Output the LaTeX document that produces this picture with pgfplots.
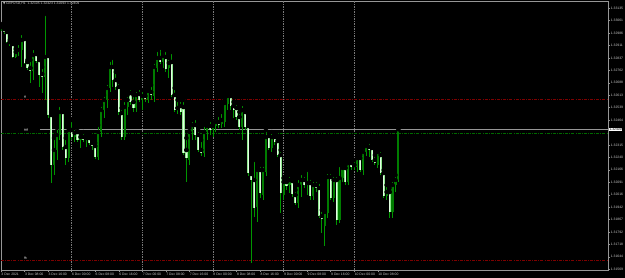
\documentclass[border=0pt]{standalone}
\usepackage{fontspec}
\setmainfont{Liberation Sans}
\newfontfamily\dejavu{DejaVu Sans}
\usepackage{pgfplots}
\usepackage{pgfplotstable}
\pgfplotsset{compat=1.18}
\definecolor{wick}{RGB}{0,150,0}
\definecolor{bullbody}{RGB}{0,125,0}
\definecolor{bearedge}{RGB}{140,230,140}
\definecolor{bearfill}{RGB}{225,255,225}
\definecolor{framecol}{RGB}{150,150,150}
\definecolor{labelcol}{RGB}{200,200,200}
\definecolor{sepcol}{RGB}{120,120,120}
\definecolor{slred}{RGB}{125,0,0}
\definecolor{ordgreen}{RGB}{0,105,0}

\pgfplotstableread{
i O H L C
0 1.33023 1.33041 1.32999 1.33011
1 1.33011 1.33023 1.32981 1.32993
2 1.32993 1.33005 1.32927 1.32933
3 1.32933 1.32945 1.32909 1.32921
4 1.32921 1.32927 1.32837 1.32843
8 1.32951 1.32969 1.32801 1.32807
9 1.32813 1.32825 1.32765 1.32777
10 1.32777 1.32825 1.32687 1.32759
12 1.32861 1.32873 1.32807 1.32819
13 1.32825 1.32837 1.32663 1.32735
14 1.32741 1.32783 1.32627 1.32723
16 1.32849 1.32861 1.32477 1.32495
17 1.32495 1.32513 1.32087 1.32195
21 1.32513 1.32537 1.32285 1.32303
22 1.32303 1.32357 1.32195 1.32237
24 1.32405 1.32465 1.32345 1.32363
26 1.32393 1.32417 1.32333 1.32345
28 1.32363 1.32393 1.32333 1.32345
30 1.32357 1.32381 1.32315 1.32327
31 1.32327 1.32345 1.32285 1.32309
32 1.32309 1.32327 1.32231 1.32243
38 1.32783 1.32837 1.32663 1.32705
39 1.32705 1.32753 1.32645 1.32663
40 1.32663 1.32693 1.32495 1.32513
41 1.32507 1.32537 1.32345 1.32363
44 1.32627 1.32657 1.32555 1.32573
45 1.32573 1.32615 1.32513 1.32537
47 1.32621 1.32657 1.32573 1.32585
49 1.32609 1.32633 1.32573 1.32591
51 1.32633 1.32675 1.32585 1.32615
54 1.32837 1.32897 1.32801 1.32813
56 1.32843 1.32885 1.32753 1.32771
58 1.32813 1.32873 1.32603 1.32615
59 1.32615 1.32657 1.32513 1.32525
60 1.32537 1.32585 1.32501 1.32525
61 1.32549 1.32585 1.32495 1.32513
62 1.32543 1.32585 1.32255 1.32267
63 1.32285 1.32357 1.32093 1.32237
66 1.32435 1.32477 1.32345 1.32375
67 1.32375 1.32405 1.32273 1.32285
68 1.32285 1.32345 1.32249 1.32267
71 1.32429 1.32465 1.32375 1.32405
74 1.32453 1.32495 1.32417 1.32435
78 1.32609 1.32621 1.32525 1.32549
79 1.32549 1.32573 1.32477 1.32525
80 1.32537 1.32567 1.32465 1.32483
81 1.32483 1.32513 1.32405 1.32423
83 1.32513 1.32537 1.32405 1.32423
84 1.32429 1.32453 1.32129 1.32147
85 1.32141 1.32165 1.31607 1.32105
86 1.32105 1.32225 1.31883 1.31937
88 1.32165 1.32195 1.31997 1.32027
91 1.32369 1.32387 1.32285 1.32297
93 1.32363 1.32387 1.32315 1.32333
94 1.32339 1.32357 1.32243 1.32255
95 1.32255 1.32285 1.31907 1.32027
97 1.32093 1.32117 1.32045 1.32069
99 1.32099 1.32117 1.32003 1.32021
100 1.32015 1.32045 1.31955 1.31967
103 1.32105 1.32135 1.32057 1.32075
105 1.32087 1.32117 1.31985 1.32009
107 1.32075 1.32105 1.32033 1.32057
108 1.32057 1.32093 1.31877 1.31889
109 1.31889 1.31925 1.31787 1.31871
112 1.32123 1.32153 1.31985 1.31997
114 1.32105 1.32135 1.31835 1.31865
117 1.32177 1.32195 1.32075 1.32093
119 1.32207 1.32225 1.32165 1.32183
120 1.32195 1.32225 1.32165 1.32183
122 1.32237 1.32255 1.32153 1.32165
125 1.32303 1.32333 1.32243 1.32285
126 1.32297 1.32315 1.32213 1.32225
127 1.32225 1.32255 1.32195 1.32207
129 1.32255 1.32285 1.32135 1.32147
130 1.32147 1.32165 1.31997 1.32009
132 1.32033 1.32057 1.31877 1.31913
}\bear

\pgfplotstableread{
i O H L C
5 1.32843 1.32891 1.32837 1.32873
6 1.32873 1.32927 1.32849 1.32885
7 1.32885 1.32987 1.32783 1.32945
11 1.32759 1.32897 1.32705 1.32855
15 1.32723 1.33101 1.32585 1.32843
18 1.32195 1.32357 1.32135 1.32285
19 1.32285 1.32417 1.32225 1.32375
20 1.32375 1.32555 1.32345 1.32513
23 1.32237 1.32429 1.32213 1.32405
25 1.32363 1.32417 1.32333 1.32387
27 1.32345 1.32387 1.32297 1.32363
29 1.32345 1.32375 1.32303 1.32357
33 1.32243 1.32435 1.32225 1.32393
34 1.32393 1.32555 1.32363 1.32525
35 1.32525 1.32615 1.32477 1.32585
36 1.32585 1.32687 1.32537 1.32657
37 1.32657 1.32825 1.32633 1.32783
42 1.32363 1.32585 1.32345 1.32543
43 1.32543 1.32615 1.32495 1.32585
46 1.32537 1.32645 1.32513 1.32615
48 1.32585 1.32645 1.32525 1.32609
50 1.32585 1.32657 1.32567 1.32639
52 1.32609 1.32813 1.32573 1.32783
53 1.32777 1.32885 1.32753 1.32837
55 1.32813 1.32873 1.32777 1.32849
57 1.32777 1.32837 1.32717 1.32807
64 1.32225 1.32417 1.32195 1.32393
65 1.32393 1.32465 1.32345 1.32435
69 1.32267 1.32435 1.32243 1.32393
70 1.32393 1.32447 1.32345 1.32429
72 1.32405 1.32453 1.32363 1.32429
73 1.32429 1.32477 1.32393 1.32453
75 1.32441 1.32513 1.32417 1.32465
76 1.32453 1.32585 1.32423 1.32567
77 1.32561 1.32633 1.32525 1.32609
82 1.32423 1.32561 1.32345 1.32525
87 1.31943 1.32177 1.31853 1.32165
89 1.32015 1.32195 1.31985 1.32165
90 1.32153 1.32405 1.32129 1.32363
92 1.32297 1.32393 1.32273 1.32363
96 1.32015 1.32117 1.31985 1.32093
98 1.32075 1.32135 1.32027 1.32105
101 1.31967 1.32117 1.31937 1.32075
102 1.32075 1.32147 1.32003 1.32105
104 1.32075 1.32165 1.32015 1.32087
106 1.32009 1.32105 1.31985 1.32075
110 1.31829 1.31937 1.31709 1.31913
111 1.31907 1.32153 1.31877 1.32123
113 1.31997 1.32135 1.31973 1.32105
115 1.31865 1.32195 1.31847 1.32117
116 1.32117 1.32195 1.32093 1.32177
118 1.32093 1.32225 1.32075 1.32207
121 1.32183 1.32255 1.32153 1.32237
123 1.32165 1.32297 1.32135 1.32273
124 1.32273 1.32327 1.32249 1.32309
128 1.32195 1.32285 1.32177 1.32273
131 1.32009 1.32075 1.31985 1.32033
133 1.31913 1.32105 1.31877 1.32075
134 1.32075 1.32135 1.32033 1.32105
135 1.32105 1.32423 1.32093 1.32409
}\bull

\begin{document}
\begin{tikzpicture}
\fill[black] (-1bp,-8bp) rectangle (624bp,270bp);
\begin{axis}[
  at={(0,0)}, anchor=south west,
  scale only axis, width=607bp, height=269bp,
  xmin=0, xmax=206.2, ymin=1.31565, ymax=1.33179,
  axis line style={framecol, line width=0.6bp},
  xtick={0,8,16,24,32,40,48,56,64,72,80,88,96,104,112,120,128},
  xticklabels={3 Dec 2021,3 Dec 08:00,3 Dec 16:00,6 Dec 00:00,6 Dec 08:00,6 Dec 16:00,7 Dec 00:00,7 Dec 08:00,7 Dec 16:00,8 Dec 00:00,8 Dec 08:00,8 Dec 16:00,9 Dec 00:00,9 Dec 08:00,9 Dec 16:00,10 Dec 00:00,10 Dec 08:00},
  xtick pos=lower, ytick pos=right,
  yticklabel pos=right,
  ytick={1.31569,1.31644,1.31718,1.31792,1.31867,1.31942,1.32016,1.32091,1.32166,1.32240,1.32315,1.32464,1.32539,1.32613,1.32688,1.32762,1.32837,1.32911,1.32986,1.33061,1.33135},
  yticklabels={1.31569,1.31644,1.31718,1.31792,1.31867,1.31942,1.32016,1.32091,1.32166,1.32240,1.32315,1.32464,1.32539,1.32613,1.32688,1.32762,1.32837,1.32911,1.32986,1.33061,1.33135},
  tick align=outside, major tick length=2bp,
  tick style={framecol, line width=0.5bp},
  ticklabel style={font=\fontsize{3.4}{4}\selectfont, text=labelcol},
  xticklabel style={anchor=north west, inner sep=0.5bp, xshift=-0.2bp},
  yticklabel style={anchor=west, inner sep=0.6bp},
  extra x ticks={24,48,72,96,120},
  extra x tick labels={},
  extra x tick style={grid=major, major tick length=0pt,
     major grid style={sepcol, line width=0.5bp, dash pattern=on 0.8bp off 0.9bp}},
  clip=true,
]
% order / SL / TP / bid lines
\addplot[slred, line width=0.5bp, dash pattern=on 3bp off 1.2bp on 0.8bp off 1.2bp] coordinates {(0,1.32589) (206.2,1.32589)};
\addplot[slred, line width=0.5bp, dash pattern=on 3bp off 1.2bp on 0.8bp off 1.2bp] coordinates {(0,1.31625) (206.2,1.31625)};
\addplot[ordgreen, line width=0.5bp, dash pattern=on 3bp off 1.2bp on 0.8bp off 1.2bp] coordinates {(0,1.32385) (206.2,1.32385)};
\addplot[framecol, line width=0.5bp] coordinates {(13.2,1.32409) (206.2,1.32409)};

% wicks
\addplot[only marks, mark=none, error bars/.cd, y dir=minus, y explicit, error mark=none,
  error bar style={wick, line width=0.8bp}]
  table[x=i, y=H, y error minus expr=\thisrow{H}-\thisrow{L}] {\bear};
\addplot[only marks, mark=none, error bars/.cd, y dir=minus, y explicit, error mark=none,
  error bar style={wick, line width=0.8bp}]
  table[x=i, y=H, y error minus expr=\thisrow{H}-\thisrow{L}] {\bull};
% bodies
\addplot[only marks, mark=none, error bars/.cd, y dir=minus, y explicit, error mark=none,
  error bar style={bullbody, line width=2.1bp}]
  table[x=i, y=C, y error minus expr=\thisrow{C}-\thisrow{O}] {\bull};
\addplot[only marks, mark=none, error bars/.cd, y dir=minus, y explicit, error mark=none,
  error bar style={bearedge, line width=2.1bp}]
  table[x=i, y=O, y error minus expr=\thisrow{O}-\thisrow{C}] {\bear};
\addplot[only marks, mark=none, error bars/.cd, y dir=minus, y explicit, error mark=none,
  error bar style={bearfill, line width=0.8bp}]
  table[x=i, y=O, y error minus expr=\thisrow{O}-\thisrow{C}] {\bear};

\node[font=\fontsize{2.6}{3}\selectfont, text=labelcol, fill={rgb,255:red,60;green,60;blue,60}, inner sep=0.3bp] at (axis cs:8.2,1.32603) {sl};
\node[font=\fontsize{2.6}{3}\selectfont, text=labelcol, fill={rgb,255:red,60;green,60;blue,60}, inner sep=0.3bp] at (axis cs:8.5,1.32405) {sell};
\node[font=\fontsize{2.6}{3}\selectfont, text=labelcol, fill={rgb,255:red,60;green,60;blue,60}, inner sep=0.3bp] at (axis cs:8.2,1.31637) {tp};
\coordinate (bidpt) at (axis cs:206.2,1.32409);
\end{axis}
\node[anchor=west, fill=white, text=black, inner sep=0.5bp, font=\fontsize{3.4}{4}\selectfont] at ([xshift=0.8bp]bidpt) {1.32409};
\node[anchor=west, inner sep=0pt, text=labelcol, font=\fontsize{3.4}{4}\selectfont] at (2bp,266.5bp) {{\dejavu\fontsize{3}{4}\selectfont ▼}\,GBPUSD,H1\ \ 1.32105 1.32423 1.32093 1.32409};
\pgfresetboundingbox
\path[use as bounding box] (-1bp,-8bp) rectangle (624bp,270bp);
\end{tikzpicture}
\end{document}
